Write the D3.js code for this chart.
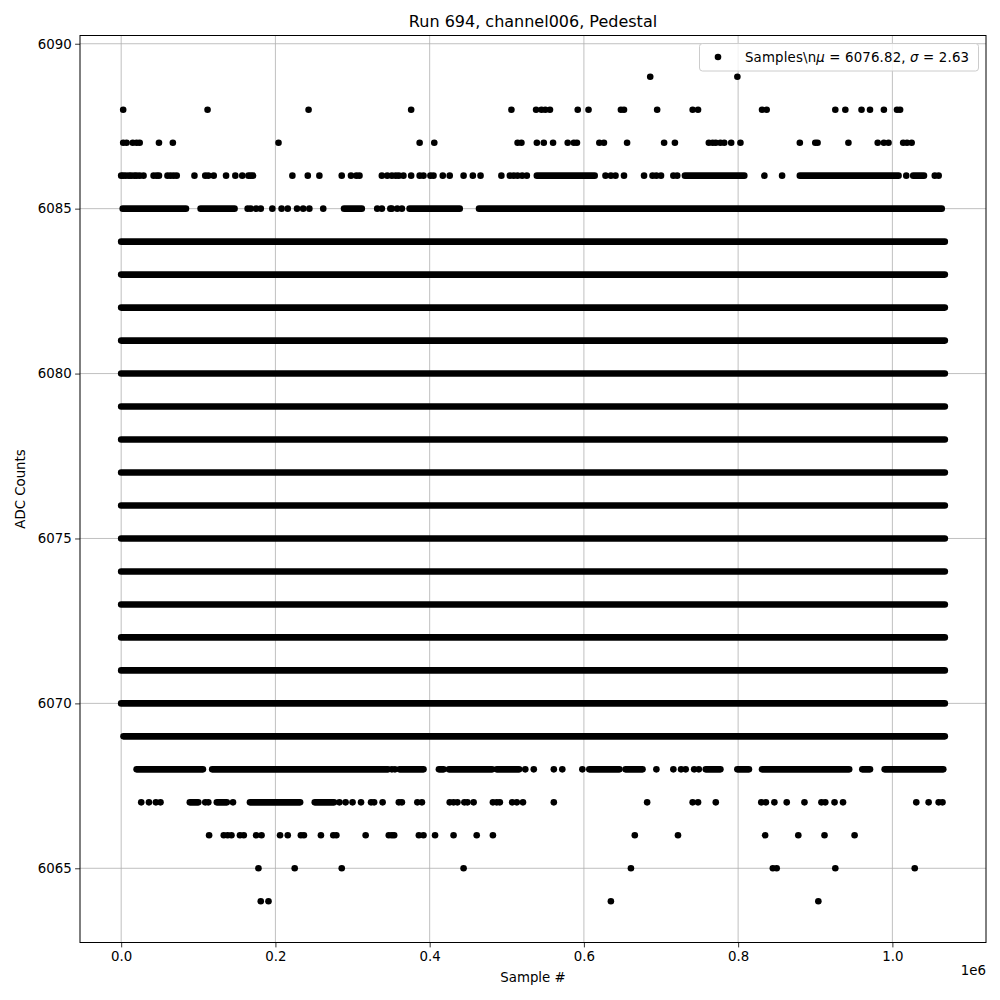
<!DOCTYPE html>
<html><head><meta charset="utf-8">
<script src="https://cdn.jsdelivr.net/npm/d3@7"></script>
<style>body{margin:0;background:#fff} text{font-family:"DejaVu Sans",sans-serif;fill:#000}</style>
</head><body><svg id="c" width="1000" height="1000"></svg>
<script>
// Sample positions below are in thousands of samples (k).
const SAMPLE_UNIT = 1000;
const lastSampleK = 1068;

const xTicks = [0, 0.2e6, 0.4e6, 0.6e6, 0.8e6, 1.0e6];
const xTickLabels = ["0.0", "0.2", "0.4", "0.6", "0.8", "1.0"];
const yTicks = [6065, 6070, 6075, 6080, 6085, 6090];
const yTickLabels = ["6065", "6070", "6075", "6080", "6085", "6090"];

// Dense runs of samples: [ADC value, first sample (k), last sample (k)]
const runsFull = [
  [6084, 0, 1068], [6083, 0, 1068], [6082, 0, 1068], [6081, 0, 1068],
  [6080, 0, 1068], [6079, 0, 1068], [6078, 0, 1068], [6077, 0, 1068],
  [6076, 0, 1068], [6075, 0, 1068], [6074, 0, 1068], [6073, 0, 1068],
  [6072, 0, 1068], [6071, 0, 1068], [6070, 0, 1068], [6069, 3, 1068]
];
const runs6086 = [[6086, 539, 614], [6086, 731, 808], [6086, 880, 1008], [6086, 1027, 1041]];
const runs6085 = [[6085, 2, 84], [6085, 103, 147], [6085, 289, 312], [6085, 374, 439], [6085, 464, 1064]];
const runs6068 = [[6068, 20, 106], [6068, 118, 346], [6068, 361, 392], [6068, 412, 418], [6068, 425, 481],
  [6068, 487, 516], [6068, 607, 646], [6068, 654, 676], [6068, 758, 777], [6068, 799, 814],
  [6068, 831, 944], [6068, 961, 971], [6068, 990, 1066]];
const runs6067 = [[6067, 89, 100], [6067, 124, 137], [6067, 167, 232], [6067, 251, 276]];

// Isolated samples (k) per ADC value
const pts6089 = [686, 799];
const pts6088 = [2.6, 112, 243, 376, 506, 538, 545, 550, 556, 592, 606, 648, 652, 695, 741, 748,
  831, 837, 926, 939, 960, 971, 989, 1006, 1010];
const pts6087 = [2.6, 7, 15, 20, 24, 49, 67, 204, 387, 406, 514, 519, 539, 548, 560, 579, 587, 591,
  620, 626, 656, 704, 718, 762, 767, 771, 777, 782, 791, 803, 880, 900, 903, 943, 981, 989, 995,
  1014, 1019, 1025];
const pts6086 = [0, 2.6, 6, 10, 13, 17, 20, 24, 29, 42, 46, 49, 60, 64, 68, 72, 95, 109, 113, 120,
  136, 148, 157, 165, 168, 171, 222, 242, 257, 286, 298, 305, 309, 338, 345, 351, 356, 360, 366,
  376, 387, 392, 401, 405, 417, 426, 444, 456, 466, 493, 504, 509, 514, 520, 526, 628, 635, 641,
  652, 678, 689, 694, 700, 716, 721, 834, 857, 1018, 1055, 1060];
const pts6085 = [164, 168, 175, 181, 196, 208, 216, 228, 236, 244, 262, 332, 338, 349, 351, 358, 364];
const pts6068 = [351, 355, 524, 535, 561, 572, 598, 694, 716, 726, 732, 743, 749];
const pts6067 = [26, 36, 45, 51, 109, 113, 145, 283, 291, 300, 311, 324, 328, 339, 360, 364, 384,
  390, 426, 431, 436, 445, 449, 457, 482, 487, 491, 507, 513, 521, 561, 682, 741, 748, 771, 830,
  836, 847, 863, 886, 908, 913, 925, 936, 1031, 1047, 1060, 1065];
const pts6066 = [114, 133, 138, 143, 154, 159, 175, 182, 206, 216, 233, 237, 259, 275, 279, 317,
  347, 351, 354, 386, 392, 407, 431, 461, 482, 666, 722, 835, 878, 912, 951];
const pts6065 = [178, 225, 286, 444, 661, 845, 850, 926, 1029];
const pts6064 = [181, 191, 635, 904];

const legendLabel = ["Samples\\n", "μ", " = 6076.82, ", "σ", " = 2.63"];

// ---- build ----
const runs = [].concat(runsFull, runs6086, runs6085, runs6068, runs6067)
  .map(r => ({v: r[0], s: r[1] * SAMPLE_UNIT, e: r[2] * SAMPLE_UNIT}));
const ptsBy = [[6089, pts6089], [6088, pts6088], [6087, pts6087], [6086, pts6086], [6085, pts6085],
  [6068, pts6068], [6067, pts6067], [6066, pts6066], [6065, pts6065], [6064, pts6064]];
const points = [];
ptsBy.forEach(([v, arr]) => arr.forEach(k => points.push({v: v, s: k * SAMPLE_UNIT})));

const L = 80, R = 986, T = 35.5, B = 942.5;
const xMax = lastSampleK * SAMPLE_UNIT, xPad = 0.05 * xMax;
const x = d3.scaleLinear().domain([-xPad, xMax + xPad]).range([L, R]);
const yMin = 6064, yMaxV = 6089, yPad = 0.05 * (yMaxV - yMin);
const y = d3.scaleLinear().domain([yMin - yPad, yMaxV + yPad]).range([B, T]);

const svg = d3.select("#c");
svg.append("rect").attr("width", 1000).attr("height", 1000).attr("fill", "#fff");

// grid
const g = svg.append("g");
g.selectAll(".gx").data(xTicks).join("line")
  .attr("x1", d => x(d)).attr("x2", d => x(d)).attr("y1", T).attr("y2", B)
  .attr("stroke", "#b0b0b0").attr("stroke-width", 0.8);
g.selectAll(".gy").data(yTicks).join("line")
  .attr("y1", d => y(d)).attr("y2", d => y(d)).attr("x1", L).attr("x2", R)
  .attr("stroke", "#b0b0b0").attr("stroke-width", 0.8);

// data
const R0 = 3.3;
svg.append("clipPath").attr("id", "cp").append("rect")
  .attr("x", L).attr("y", T).attr("width", R - L).attr("height", B - T);
const dg = svg.append("g").attr("clip-path", "url(#cp)");
dg.selectAll("line.run").data(runs).join("line").attr("class", "run")
  .attr("x1", d => x(d.s)).attr("x2", d => x(d.e))
  .attr("y1", d => y(d.v)).attr("y2", d => y(d.v))
  .attr("stroke", "#000").attr("stroke-width", R0 * 2).attr("stroke-linecap", "round");
dg.selectAll("circle.pt").data(points).join("circle").attr("class", "pt")
  .attr("cx", d => x(d.s)).attr("cy", d => y(d.v)).attr("r", R0).attr("fill", "#000");

// axes
const fs = "13.33px";
const xAxis = svg.append("g").attr("transform", `translate(0,${B})`)
  .call(d3.axisBottom(x).tickValues(xTicks).tickFormat((d, i) => xTickLabels[i]).tickSize(4.9).tickPadding(4.5).tickSizeOuter(0));
const yAxis = svg.append("g").attr("transform", `translate(${L},0)`)
  .call(d3.axisLeft(y).tickValues(yTicks).tickFormat((d, i) => yTickLabels[i]).tickSize(4.9).tickPadding(3.5).tickSizeOuter(0));
[xAxis, yAxis].forEach(a => {
  a.select(".domain").remove();
  a.selectAll("text").attr("font-size", fs).attr("font-family", "DejaVu Sans");
  a.selectAll("line").attr("stroke", "#000").attr("stroke-width", 0.8);
});

svg.append("rect").attr("x", L).attr("y", T).attr("width", R - L).attr("height", B - T)
  .attr("fill", "none").attr("stroke", "#000").attr("stroke-width", 1);

// labels
svg.append("text").attr("x", (L + R) / 2).attr("y", 27).attr("text-anchor", "middle")
  .attr("font-size", "16px").text("Run 694, channel006, Pedestal");
svg.append("text").attr("x", (L + R) / 2).attr("y", 982).attr("text-anchor", "middle")
  .attr("font-size", fs).text("Sample #");
svg.append("text").attr("x", R).attr("y", 975).attr("text-anchor", "end")
  .attr("font-size", fs).text("1e6");
svg.append("text").attr("transform", `translate(25,${(T + B) / 2}) rotate(-90)`).attr("text-anchor", "middle")
  .attr("font-size", fs).text("ADC Counts");

// legend
const lg = svg.append("g");
lg.append("rect").attr("x", 699.5).attr("y", 43.5).attr("width", 279).attr("height", 27.5).attr("rx", 3)
  .attr("fill", "#fff").attr("fill-opacity", 0.8).attr("stroke", "#cccccc").attr("stroke-width", 1);
lg.append("circle").attr("cx", 718).attr("cy", 57).attr("r", R0).attr("fill", "#000");
const lt = lg.append("text").attr("x", 745).attr("y", 61.5).attr("font-size", fs)
  .attr("textLength", 224).attr("lengthAdjust", "spacing");
legendLabel.forEach((s, i) => {
  const t = lt.append("tspan").text(s);
  if (i === 1 || i === 3) t.attr("font-style", "italic");
});
</script></body></html>
